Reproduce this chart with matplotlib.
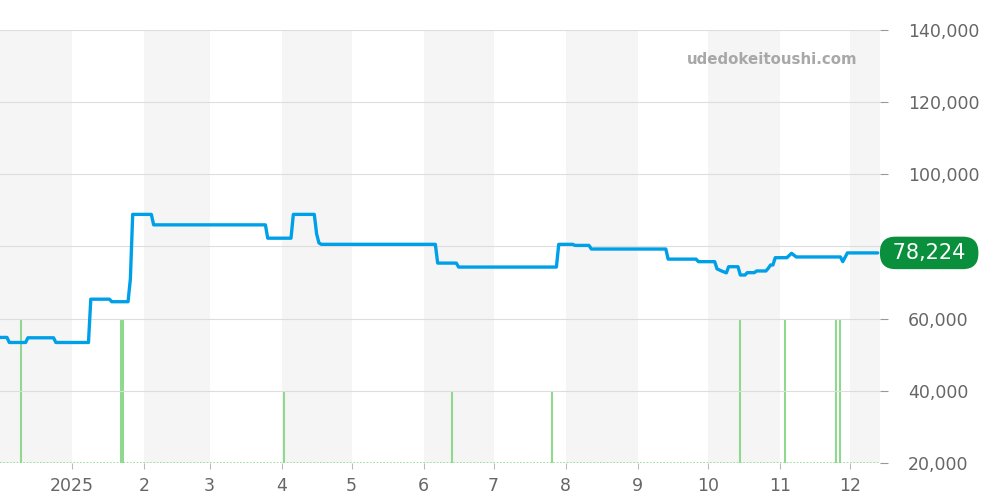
import matplotlib
matplotlib.use("Agg")
import matplotlib.pyplot as plt
import matplotlib.transforms as mtransforms
import pandas as pd

# ---- data ----
price_dates = [
    "2024-12-01", "2024-12-04", "2024-12-05", "2024-12-12", "2024-12-13",
    "2024-12-24", "2024-12-25", "2025-01-08", "2025-01-09", "2025-01-17",
    "2025-01-18", "2025-01-25", "2025-01-26", "2025-01-27", "2025-02-04",
    "2025-02-05", "2025-03-25", "2025-03-26", "2025-04-05", "2025-04-06",
    "2025-04-15", "2025-04-16", "2025-04-17", "2025-04-18", "2025-06-06",
    "2025-06-07", "2025-06-15", "2025-06-16", "2025-07-28", "2025-07-29",
    "2025-08-04", "2025-08-05", "2025-08-11", "2025-08-12", "2025-09-13",
    "2025-09-14", "2025-09-26", "2025-09-27", "2025-10-04", "2025-10-05",
    "2025-10-07", "2025-10-09", "2025-10-10", "2025-10-14", "2025-10-15",
    "2025-10-17", "2025-10-18", "2025-10-21", "2025-10-22", "2025-10-26",
    "2025-10-27", "2025-10-28", "2025-10-29", "2025-10-30", "2025-11-04",
    "2025-11-06", "2025-11-08", "2025-11-27", "2025-11-28", "2025-11-30",
    "2025-12-13",
]
price_values = [
    54800, 54800, 53400, 53400, 54700,
    54700, 53400, 53400, 65400, 65400,
    64700, 64700, 71000, 88900, 88900,
    86000, 86000, 82300, 82300, 88900,
    88900, 83500, 81000, 80600, 80600,
    75400, 75400, 74300, 74300, 80600,
    80600, 80300, 80300, 79300, 79300,
    76500, 76500, 75800, 75800, 73800,
    73200, 72700, 74400, 74400, 72100,
    72100, 72750, 72750, 73220, 73220,
    73970, 74880, 74880, 76900, 76900,
    78120, 77100, 77100, 75800, 78224,
    78224,
]
volume_dates = ["2024-12-10", "2025-01-22", "2025-01-23", "2025-04-02", "2025-06-13",
                "2025-07-26", "2025-10-15", "2025-11-03", "2025-11-25", "2025-11-27"]
volume_values = [2, 2, 2, 1, 1, 1, 2, 2, 2, 2]
y_ticks = [20000, 40000, 60000, 80000, 100000, 120000, 140000]
last_price = 78224
watermark = "udedokeitoushi.com"

# ---- figure ----
fig = plt.figure(figsize=(10, 5), dpi=100)
ax = fig.add_axes([0.0, 0.074, 0.88, 0.866])
ax2 = ax.twinx()
ax.set_zorder(ax2.get_zorder() + 1)
ax.patch.set_visible(False)

pdates = pd.to_datetime(price_dates)
vdates = pd.to_datetime(volume_dates)

x0 = pd.Timestamp("2024-12-01")
x1 = pd.Timestamp("2025-12-14")

# alternating month shading
months = pd.date_range("2024-12-01", "2026-01-01", freq="MS")
for i in range(len(months) - 1):
    if i % 2 == 0:
        ax2.axvspan(months[i], months[i + 1], color="#f5f5f5", lw=0, zorder=0)

# volume
ax2.vlines(vdates, 0, volume_values, color="#8fd98f", lw=1.5, zorder=2)
ax2.axhline(0, color="#8fd98f", lw=1.2, ls=(0, (1, 1)), zorder=2)
ax2.set_ylim(0, 6)
ax2.set_yticks([])
for s in ax2.spines.values():
    s.set_visible(False)

# gridlines
for yv in y_ticks:
    ax.axhline(yv, color="#dddddd", lw=0.8, zorder=1)

ax.plot(pdates, price_values, color="#00a0e9", lw=2.4, zorder=5,
        solid_joinstyle="round", solid_capstyle="round")

ax.set_xlim(x0, x1)
ax.set_ylim(20000, 140000)

for s in ax.spines.values():
    s.set_visible(False)

ax.yaxis.tick_right()
ax.set_yticks(y_ticks)
ax.set_yticklabels([f"{v:,}" for v in y_ticks])
ax.tick_params(axis="y", length=5.8, width=0.8, color="#999999", labelcolor="#666666",
               labelsize=12.5, pad=14.5)

xt = pd.date_range("2025-01-01", "2025-12-01", freq="MS")
ax.set_xticks(xt)
ax.set_xticklabels(["2025"] + [str(d.month) for d in xt[1:]])
ax.tick_params(axis="x", length=4, width=0.8, color="#bbbbbb", labelcolor="#666666",
               labelsize=12.5, pad=6)

# watermark
ax.text(0.974, 0.95, watermark, transform=ax.transAxes, ha="right", va="top",
        fontsize=10.8, fontweight="bold", color="#a8a8a8", zorder=6)

# last price label (covers the 80,000 tick label as in the original)
trans = mtransforms.blended_transform_factory(ax.transAxes, ax.transData)
ax.text(1.007, last_price, f" {last_price:,} ", transform=trans, ha="left", va="center",
        fontsize=15, color="white", zorder=10, clip_on=False,
        bbox=dict(boxstyle="round,pad=0.3,rounding_size=0.75", fc="#0a8f3c", ec="none"))

fig.savefig("out.png", dpi=100)
